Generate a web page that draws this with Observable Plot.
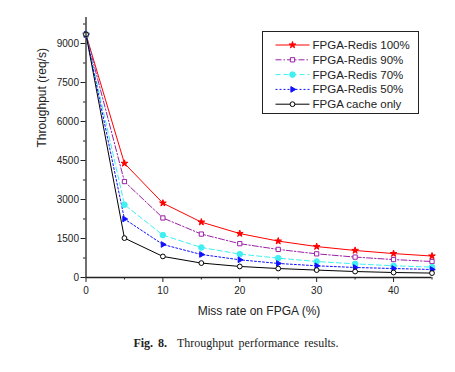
<!DOCTYPE html>
<html><head><meta charset="utf-8">
<script src="https://cdn.jsdelivr.net/npm/d3@7"></script>
<script src="https://cdn.jsdelivr.net/npm/@observablehq/plot@0.6"></script>
<style>
body{margin:0;background:#fff;width:455px;height:372px;position:relative;font-family:"Liberation Sans",Arial,sans-serif;}
#cap{position:absolute;left:0;width:472px;top:336px;text-align:center;font-family:"Liberation Serif","Times New Roman",serif;font-size:12px;word-spacing:2px;color:#222;}
</style></head><body>
<div id="chart"></div>
<div id="cap"><b>Fig. 8.</b>&nbsp; Throughput performance results.</div>
<script>
const missRate = [0, 5, 10, 15, 20, 25, 30, 35, 40, 45];
const redis100 = [9350, 4390, 2860, 2130, 1690, 1400, 1190, 1040, 920, 825];
const redis90  = [9350, 3690, 2290, 1670, 1300, 1080, 910, 785, 690, 615];
const redis70  = [9350, 2800, 1630, 1155, 900, 745, 615, 525, 450, 400];
const redis50  = [9350, 2250, 1270, 885, 680, 540, 450, 385, 345, 308];
const cacheOnly= [9350, 1515, 810, 555, 425, 345, 285, 230, 192, 170];
const seriesNames = ["FPGA-Redis 100%", "FPGA-Redis 90%", "FPGA-Redis 70%", "FPGA-Redis 50%", "FPGA cache only"];
const yTicks = [0, 1500, 3000, 4500, 6000, 7500, 9000];
const yMinor = [750, 2250, 3750, 5250, 6750, 8250, 9750];
const xTicks = [0, 10, 20, 30, 40];
const xMinor = [5, 15, 25, 35, 45];

const styles = [
  {color:"#ff0000", dash:null, symbol:"star", fill:"#ff0000", r:2.1, rotate:0},
  {color:"#9b1fa6", dash:"6,2,1.5,2", symbol:"square", fill:"white", r:2.4, rotate:0},
  {color:"#40f0f0", dash:"5,3", symbol:"circle", fill:"#40f0f0", r:2.8, rotate:0},
  {color:"#1010ff", dash:"2,2", symbol:"triangle", fill:"#1010ff", r:2.1, rotate:90},
  {color:"#000000", dash:null, symbol:"circle", fill:"white", r:2.4, rotate:0}
];
const allValues = [redis100, redis90, redis70, redis50, cacheOnly];
const rows = allValues.map((vals, i) => missRate.map((x, j) => ({x, y: vals[j], s: seriesNames[i], i})));

const marks = [];
rows.forEach((data, i) => {
  const st = styles[i];
  marks.push(Plot.line(data, {x:"x", y:"y", stroke: st.color, strokeWidth: 1, strokeDasharray: st.dash}));
});
rows.forEach((data, i) => {
  const st = styles[i];
  marks.push(Plot.dot(data, {x:"x", y:"y", symbol: st.symbol, r: st.r, fill: st.fill, stroke: st.color, strokeWidth: 1, rotate: st.rotate}));
});

const chart = Plot.plot({
  width: 455, height: 330,
  marginLeft: 85.5, marginRight: 23.5, marginTop: 17, marginBottom: 53,
  style: {fontFamily: "'Liberation Sans', Arial, sans-serif", fontSize: "10px", color: "#222", background: "white"},
  x: {domain: [0, 45]},
  y: {domain: [0, 10000]},
  marks: [
    Plot.axisY(yTicks, {tickSize: 5, tickPadding: 2, fontSize: 10, label: null, tickFormat: d3.format("d")}),
    Plot.axisY(yMinor, {tickSize: 2.5, tickFormat: () => "", label: null}),
    Plot.axisX(xTicks, {tickSize: 5, tickPadding: 4, fontSize: 10, label: null, tickFormat: d3.format("d")}),
    Plot.axisX(xMinor, {tickSize: 2.5, tickFormat: () => "", label: null}),
    Plot.text(["Throughput (req/s)"], {frameAnchor: "left", dx: -44, rotate: -90, fontSize: 12, fill: "#222"}),
    Plot.text(["Miss rate on FPGA (%)"], {frameAnchor: "bottom", dy: 37, fontSize: 12, fill: "#222"}),
    ...marks,
    Plot.ruleX([0], {stroke: "#222", strokeWidth: 1.3}),
    Plot.ruleY([0], {stroke: "#222", strokeWidth: 1.3})
  ]
});
document.getElementById("chart").appendChild(chart);

// Legend drawn inside the SVG
const svg = d3.select(chart);
const lg = svg.append("g").attr("transform", "translate(262.5,31.5)");
lg.append("rect").attr("width", 156).attr("height", 82).attr("fill", "white").attr("stroke", "#222").attr("stroke-width", 1);
const symMap = {star: d3.symbolStar, square: d3.symbolSquare, circle: d3.symbolCircle, triangle: d3.symbolTriangle};
seriesNames.forEach((name, i) => {
  const st = styles[i];
  const y = 13.5 + i * 14.8;
  const g = lg.append("g").attr("transform", `translate(0,${y})`);
  g.append("line").attr("x1", 13).attr("x2", 47).attr("y1", 0).attr("y2", 0)
    .attr("stroke", st.color).attr("stroke-width", 1).attr("stroke-dasharray", st.dash);
  const path = d3.symbol(symMap[st.symbol], Math.PI * st.r * st.r)();
  g.append("path").attr("d", path).attr("transform", `translate(30,0) rotate(${st.rotate})`)
    .attr("fill", st.fill).attr("stroke", st.color).attr("stroke-width", 1);
  g.append("text").attr("x", 50).attr("y", 0).attr("dy", "0.35em").attr("text-anchor", "start")
    .attr("font-size", 11.5).attr("fill", "#222").text(name);
});
</script>
</body></html>
